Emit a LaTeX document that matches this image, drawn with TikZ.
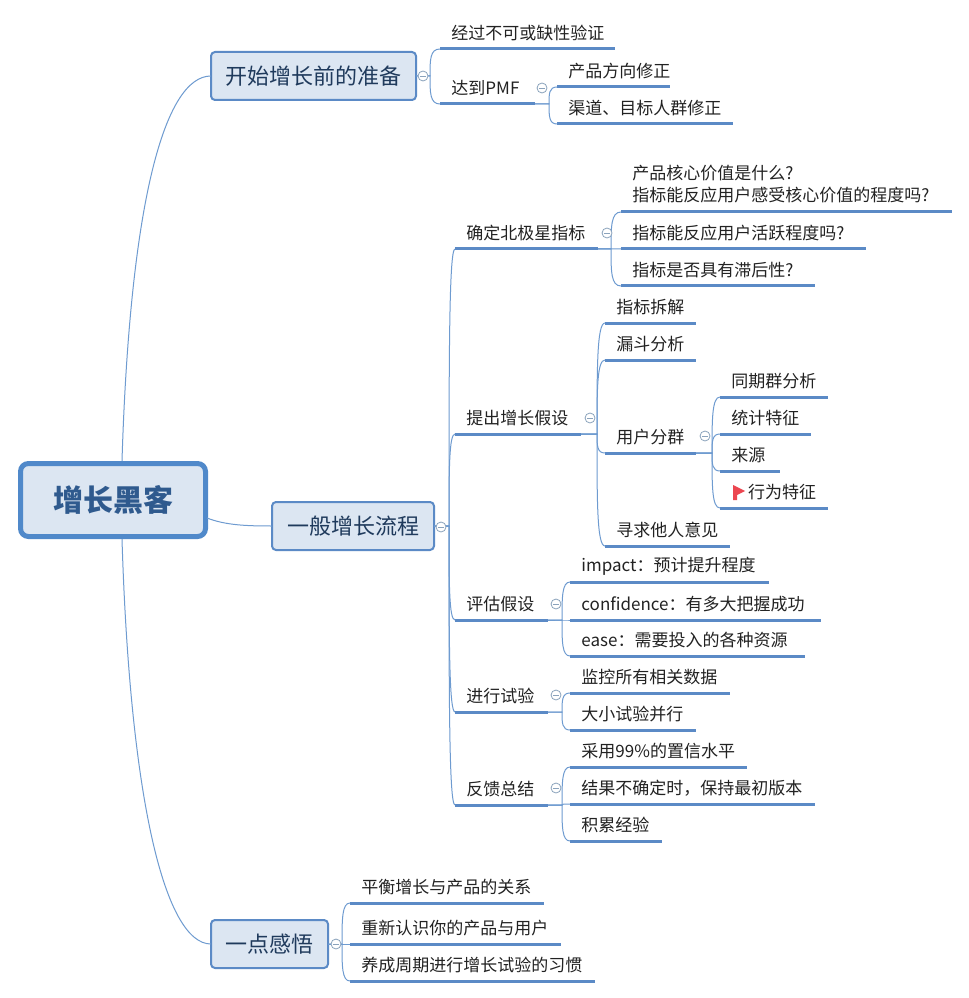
\documentclass[tikz,border=0pt]{standalone}
\usepackage{fontspec}
\setmainfont{Noto Sans CJK SC}
\usetikzlibrary{calc}
\definecolor{uline}{HTML}{5B8AC6}
\definecolor{cline}{HTML}{6E9BD0}
\definecolor{boxfill}{HTML}{DCE6F2}
\definecolor{boxtext}{HTML}{1F3A5C}
\definecolor{roottext}{HTML}{2F5A8E}
\definecolor{rootline}{HTML}{5089CA}
\definecolor{leaftext}{HTML}{222222}
\definecolor{foldc}{HTML}{8BA3BC}
\definecolor{flagc}{HTML}{EC4650}
\tikzset{
  x=0.75pt,y=-0.75pt,
  topicnode/.style={anchor=south west,inner xsep=0pt,inner ysep=0pt,outer sep=0pt,minimum height=24pt,
    align=left,font=\fontsize{12.75pt}{17pt}\selectfont,text=leaftext},
  underl/.style={draw=uline,line width=2.25pt},
  mainbox/.style={draw=uline,fill=boxfill,line width=1.5pt,rounded corners=3pt,outer sep=0pt,inner sep=0pt,
    font=\fontsize{16.5pt}{20pt}\selectfont,text=boxtext},
  rootbox/.style={draw=rootline,fill=boxfill,line width=3.75pt,rounded corners=6pt,outer sep=0pt,inner sep=0pt,
    font=\fontsize{22.5pt}{26pt}\selectfont\bfseries,text=roottext},
  conn/.style={draw=cline,line width=0.75pt},
  fold/.style={circle,draw=foldc,fill=white,line width=0.6pt,minimum size=7.5pt,inner sep=0pt,outer sep=0pt,
    path picture={\draw[foldc,line width=0.6pt] ([xshift=1.5pt]path picture bounding box.west) -- ([xshift=-1.5pt]path picture bounding box.east);}},
}
% name, x0, x1, y of underline, text
\newcommand\tpc[6][]{%
  \pgfmathsetmacro\tpcw{(#4-#3)*0.75}%
  \node[topicnode,text width=\tpcw pt,#1] (#2) at (#3,#5) {#6};
  \draw[underl] (#2.south west) -- (#2.south east);
}
\newcommand\tx{\hspace*{8.6pt}}
\newcommand\qcolon{\char"FF1A\relax}
\newcommand\qcomma{\char"FF0C\relax}
% [stem offset], from anchor, to child
\newcommand\conn[3][8]{%
  \coordinate (cx) at ($(#3.south west)+(-#1,0)$);
  \coordinate (cm) at (cx |- #2);
  \draw[conn] (#2) -- (cm) .. controls ($(cm)!.6!(cm |- #3.south west)$) and (cm |- #3.south west) .. (#3.south west);
}
\begin{document}
\begin{tikzpicture}
\useasboundingbox (0,0) rectangle (969,998);
\fill[white] (0,0) rectangle (969,998);

\node[rootbox,minimum width=138.75pt,minimum height=54.75pt] (root) at (113,500) {增长黑客};
\node[mainbox,minimum width=153.75pt,minimum height=36pt] (prep) at (313.5,76) {开始增长前的准备};
\node[mainbox,minimum width=121.5pt,minimum height=36pt] (flow) at (353,526) {一般增长流程};
\node[mainbox,minimum width=87.75pt,minimum height=36pt] (feel) at (269.5,944) {一点感悟};

\coordinate (rtop) at (122,461);
\coordinate (rbot) at (122,539);
\coordinate (rright) at (207,518);
\draw[conn] (rtop) .. controls (130,200) and (165,76) .. (prep.west);
\draw[conn] (rbot) .. controls (130,800) and (165,944) .. (feel.west);
\draw[conn] (rright) .. controls (225,525) and (245,526) .. (flow.west);

% prep
\tpc{a1}{440}{615}{49}{\tx 经过不可或缺性验证}
\tpc{a2}{440}{535}{104}{\tx 达到PMF}
\tpc{a21}{557}{670}{87}{\tx 产品方向修正}
\tpc{a22}{557}{733}{124}{\tx 渠道、目标人群修正}
\conn[10]{prep.east}{a1}
\conn[10]{prep.east}{a2}
\conn{a2.south east}{a21}
\conn{a2.south east}{a22}

% flow
\tpc{b1}{455}{598}{249}{\tx 确定北极星指标}
\tpc{b2}{455}{581}{434}{\tx 提出增长假设}
\tpc{b3}{455}{548}{620}{\tx 评估假设}
\tpc{b4}{455}{548}{712}{\tx 进行试验}
\tpc{b5}{455}{548}{805}{\tx 反馈总结}
\foreach \c in {b1,b2,b3,b4,b5}{\conn[6]{flow.east}{\c}}

\tpc[minimum height=42pt]{b11}{621}{952}{212}{\tx 产品核心价值是什么?\\\tx 指标能反应用户感受核心价值的程度吗?}
\tpc{b12}{621}{866}{249}{\tx 指标能反应用户活跃程度吗?}
\tpc{b13}{621}{815}{286}{\tx 指标是否具有滞后性?}
\foreach \c in {b11,b12,b13}{\conn[10]{b1.south east}{\c}}

\tpc{b21}{605}{696}{323}{\tx 指标拆解}
\tpc{b22}{605}{696}{360}{\tx 漏斗分析}
\tpc{b23}{605}{696}{453}{\tx 用户分群}
\tpc{b24}{605}{730}{546}{\tx 寻求他人意见}
\foreach \c in {b21,b22,b23,b24}{\conn{b2.south east}{\c}}

\tpc{b231}{720}{828}{397}{\tx 同期群分析}
\tpc{b232}{720}{811}{434}{\tx 统计特征}
\tpc{b233}{720}{780}{471}{\tx 来源}
\tpc{b234}{720}{828}{508}{\hspace*{21pt}行为特征}
\foreach \c in {b231,b232,b233,b234}{\conn{b23.south east}{\c}}
\fill[flagc] (733,485) -- (745,491) -- (737,495) -- (737,500) -- (733,500) -- cycle;

\tpc{b31}{570}{769}{582}{\tx impact\qcolon 预计提升程度}
\tpc{b32}{570}{821}{620}{\tx confidence\qcolon 有多大把握成功}
\tpc{b33}{570}{805}{656}{\tx ease\qcolon 需要投入的各种资源}
\foreach \c in {b31,b32,b33}{\conn{b3.south east}{\c}}

\tpc{b41}{570}{730}{693}{\tx 监控所有相关数据}
\tpc{b42}{570}{696}{730}{\tx 大小试验并行}
\foreach \c in {b41,b42}{\conn{b4.south east}{\c}}

\tpc{b51}{570}{747}{767}{\tx 采用99\%的置信水平}
\tpc{b52}{570}{815}{804}{\tx 结果不确定时\qcomma 保持最初版本}
\tpc{b53}{570}{662}{841}{\tx 积累经验}
\foreach \c in {b51,b52,b53}{\conn{b5.south east}{\c}}

% feel
\tpc{c1}{350}{544}{903}{\tx 平衡增长与产品的关系}
\tpc{c2}{350}{561}{944}{\tx 重新认识你的产品与用户}
\tpc{c3}{350}{595}{981}{\tx 养成周期进行增长试验的习惯}
\foreach \c in {c1,c2,c3}{\conn{feel.east}{\c}}

% fold markers
\node[fold] (f1) at (423,76) {};
\node[fold] (f2) at (542,88) {};
\node[fold] (f3) at (607,233) {};
\node[fold] (f4) at (590,418) {};
\node[fold] (f5) at (705,436) {};
\node[fold] (f6) at (556,604) {};
\node[fold] (f7) at (556,695) {};
\node[fold] (f8) at (556,788) {};
\node[fold] (f9) at (441,527) {};
\node[fold] (f10) at (336,944) {};
\end{tikzpicture}
\end{document}
